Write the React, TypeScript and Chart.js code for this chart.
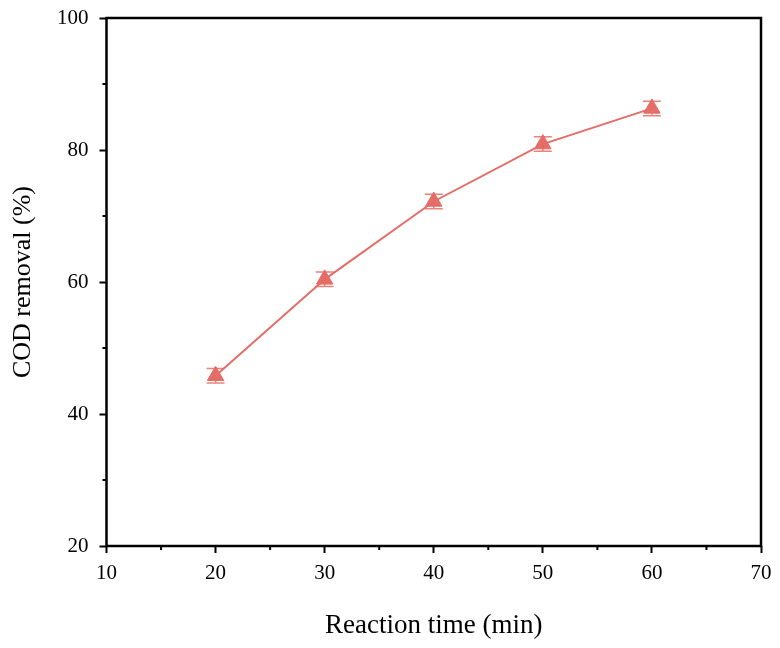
import { useEffect, useRef } from "react";
import { Chart, registerables } from "chart.js";

Chart.register(...registerables);

const reactionTimes = [20, 30, 40, 50, 60];
const codRemoval = [45.8, 60.4, 72.2, 80.9, 86.3];
const codError = [1.1, 1.1, 1.1, 1.1, 1.1];
const xMinorTicks = [15, 25, 35, 45, 55, 65];
const yMinorTicks = [30, 50, 70, 90];

const RED = "#E46D67";
const FONT = "'Liberation Serif', 'Times New Roman', serif";

// error bars, frame and minor ticks drawn over the chart area
const extrasPlugin = {
  id: "extras",
  afterDatasetsDraw(chart: any) {
    const { ctx, scales } = chart;
    const x = scales.x;
    const y = scales.y;

    ctx.save();
    ctx.strokeStyle = "rgba(228,109,103,0.85)";
    ctx.lineWidth = 1.5;
    reactionTimes.forEach((t, i) => {
      const px = x.getPixelForValue(t);
      const top = y.getPixelForValue(codRemoval[i] + codError[i]);
      const bot = y.getPixelForValue(codRemoval[i] - codError[i]);
      ctx.beginPath();
      ctx.moveTo(px, top);
      ctx.lineTo(px, bot);
      ctx.moveTo(px - 9, top);
      ctx.lineTo(px + 9, top);
      ctx.moveTo(px - 9, bot);
      ctx.lineTo(px + 9, bot);
      ctx.stroke();
    });
    ctx.restore();
  },
  afterDraw(chart: any) {
    const { ctx, chartArea, scales } = chart;
    ctx.save();
    ctx.strokeStyle = "#000";
    ctx.lineWidth = 2.5;
    ctx.strokeRect(
      chartArea.left,
      chartArea.top,
      chartArea.right - chartArea.left,
      chartArea.bottom - chartArea.top
    );
    ctx.lineWidth = 2;
    ctx.beginPath();
    xMinorTicks.forEach((v) => {
      const px = scales.x.getPixelForValue(v);
      ctx.moveTo(px, chartArea.bottom);
      ctx.lineTo(px, chartArea.bottom + 4);
    });
    yMinorTicks.forEach((v) => {
      const py = scales.y.getPixelForValue(v);
      ctx.moveTo(chartArea.left, py);
      ctx.lineTo(chartArea.left - 4, py);
    });
    ctx.stroke();
    ctx.restore();
  },
};

const CodChart: React.FC = () => {
  const canvasRef = useRef<HTMLCanvasElement | null>(null);

  useEffect(() => {
    if (!canvasRef.current) return;
    const chart = new Chart(canvasRef.current, {
      type: "line",
      data: {
        datasets: [
          {
            data: reactionTimes.map((t, i) => ({ x: t, y: codRemoval[i] })),
            borderColor: RED,
            backgroundColor: RED,
            borderWidth: 2,
            pointStyle: "triangle",
            pointRadius: 9.5,
            pointBorderWidth: 1,
            pointBorderColor: RED,
            pointBackgroundColor: RED,
          },
        ],
      },
      options: {
        animation: false,
        responsive: false,
        layout: { padding: { top: 18, right: 19, left: 0, bottom: 0 } },
        plugins: {
          legend: { display: false },
          tooltip: { enabled: false },
        },
        scales: {
          x: {
            type: "linear",
            min: 10,
            max: 70,
            ticks: {
              stepSize: 10,
              color: "#000",
              font: { family: FONT, size: 21 },
              padding: 8,
            },
            grid: {
              drawOnChartArea: false,
              drawTicks: true,
              tickLength: 7,
              tickWidth: 2,
              tickColor: "#000",
            },
            border: { display: false },
            title: {
              display: true,
              text: "Reaction time (min)",
              color: "#000",
              font: { family: FONT, size: 27 },
              padding: { top: 0, bottom: 6 },
            },
            afterFit(scale: any) {
              scale.height = 102;
              scale.paddingLeft = 0;
              scale.paddingRight = 0;
            },
          },
          y: {
            min: 20,
            max: 100,
            ticks: {
              stepSize: 20,
              color: "#000",
              font: { family: FONT, size: 21 },
              padding: 11,
            },
            grid: {
              drawOnChartArea: false,
              drawTicks: true,
              tickLength: 7,
              tickWidth: 2,
              tickColor: "#000",
            },
            border: { display: false },
            title: {
              display: true,
              text: "COD removal (%)",
              color: "#000",
              font: { family: FONT, size: 26 },
              padding: { top: 8, bottom: 0 },
            },
            afterFit(scale: any) {
              scale.width = 106.5;
              scale.paddingTop = 0;
              scale.paddingBottom = 0;
            },
          },
        },
      },
      plugins: [extrasPlugin],
    });
    return () => chart.destroy();
  }, []);

  return <canvas ref={canvasRef} width={780} height={648} />;
};

export default function App() {
  return (
    <div style={{ position: "absolute", left: 0, top: 0, width: 780, height: 648, background: "#fff" }}>
      <CodChart />
    </div>
  );
}
